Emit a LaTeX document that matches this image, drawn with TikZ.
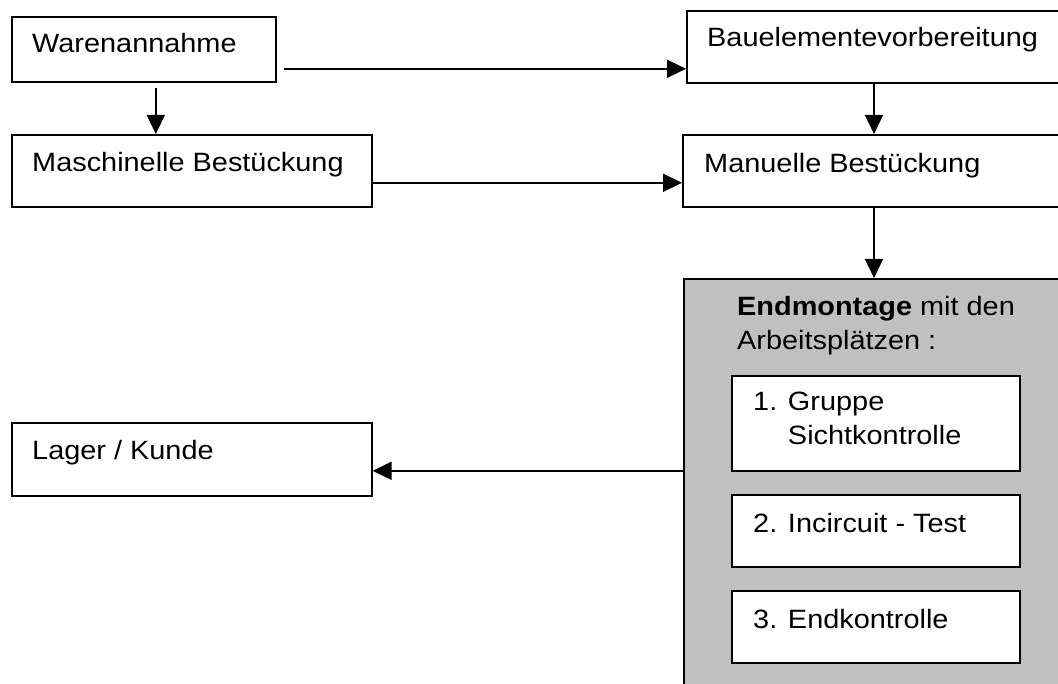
\documentclass[tikz,border=0pt]{standalone}
\usepackage{fontspec}
\setmainfont{Liberation Sans}[FakeStretch=1.09]
\usetikzlibrary{arrows.meta,calc}
\definecolor{silver}{HTML}{C0C0C0}
\tikzset{
  box/.style={draw, line width=1.6pt, fill=white, rectangle, anchor=north west, inner sep=0pt},
  txt/.style={anchor=base west, inner sep=0pt, align=left},
  arr/.style={line width=1.6pt, -{Triangle[length=19pt,width=18pt]}}
}
\begin{document}
\begin{tikzpicture}[x=1pt,y=-1pt,font=\fontsize{26.5}{34}\selectfont]
\clip (0,0) rectangle (1058,684);
\fill[white] (0,0) rectangle (1058,684);
\node[box, minimum width=264pt, minimum height=65pt] (wa) at (11,16) {};
\node[box, minimum width=360pt, minimum height=72pt] (ms) at (11,134) {};
\node[box, minimum width=400pt, minimum height=72pt] (bv) at (686,10) {};
\node[box, minimum width=400pt, minimum height=72pt] (mb) at (682,134) {};
\node[box, minimum width=360pt, minimum height=73pt] (lk) at (11,422) {};
\node[box, fill=silver, minimum width=400pt, minimum height=420pt] (em) at (683,278) {};
\node[box, minimum width=288pt, minimum height=95pt] (g1) at (731,375) {};
\node[box, minimum width=288pt, minimum height=72pt] (g2) at (731,494) {};
\node[box, minimum width=288pt, minimum height=72pt] (g3) at (731,590) {};

\node[txt] (wat) at ([shift={(21,37)}]wa.north west) {Warenannahme};
\node[txt] (mst) at ([shift={(21,38)}]ms.north west) {Maschinelle Bestückung};
\node[txt] (bvt) at ([shift={(21,37)}]bv.north west) {Bauelementevorbereitung};
\node[txt] (mbt) at ([shift={(22,39)}]mb.north west) {Manuelle Bestückung};
\node[txt] (lkt) at ([shift={(21,38)}]lk.north west) {Lager / Kunde};
\node[txt] (emt) at ([shift={(54,72)}]em.north west) {\textbf{Endmontage} mit den\\Arbeitsplätzen :};
\node[txt] (g1t) at ([shift={(22,70)}]g1.north west) {1. Gruppe\\\phantom{1. }Sichtkontrolle};
\node[txt] (g2t) at ([shift={(22,38)}]g2.north west) {2. Incircuit - Test};
\node[txt] (g3t) at ([shift={(22,38)}]g3.north west) {3. Endkontrolle};

\coordinate (wr) at ([yshift=-19.5pt]wa.east);
\coordinate (wd) at ([xshift=12pt]wa.south);
\coordinate (mr) at ([yshift=-12pt]ms.east);
\coordinate (li) at ([yshift=-11.5pt]lk.east);
\coordinate (xr) at (874,0);
\draw[arr, shorten <=7pt] (wr) -- (wr -| bv.west);
\draw[arr, shorten <=5pt] (wd) -- (wd |- ms.north);
\draw[arr] (mr) -- (mr -| mb.west);
\draw[arr] (bv.south -| xr) -- (mb.north -| xr);
\draw[arr] (mb.south -| xr) -- (em.north -| xr);
\draw[arr] (li -| em.west) -- (li);
\end{tikzpicture}
\end{document}
